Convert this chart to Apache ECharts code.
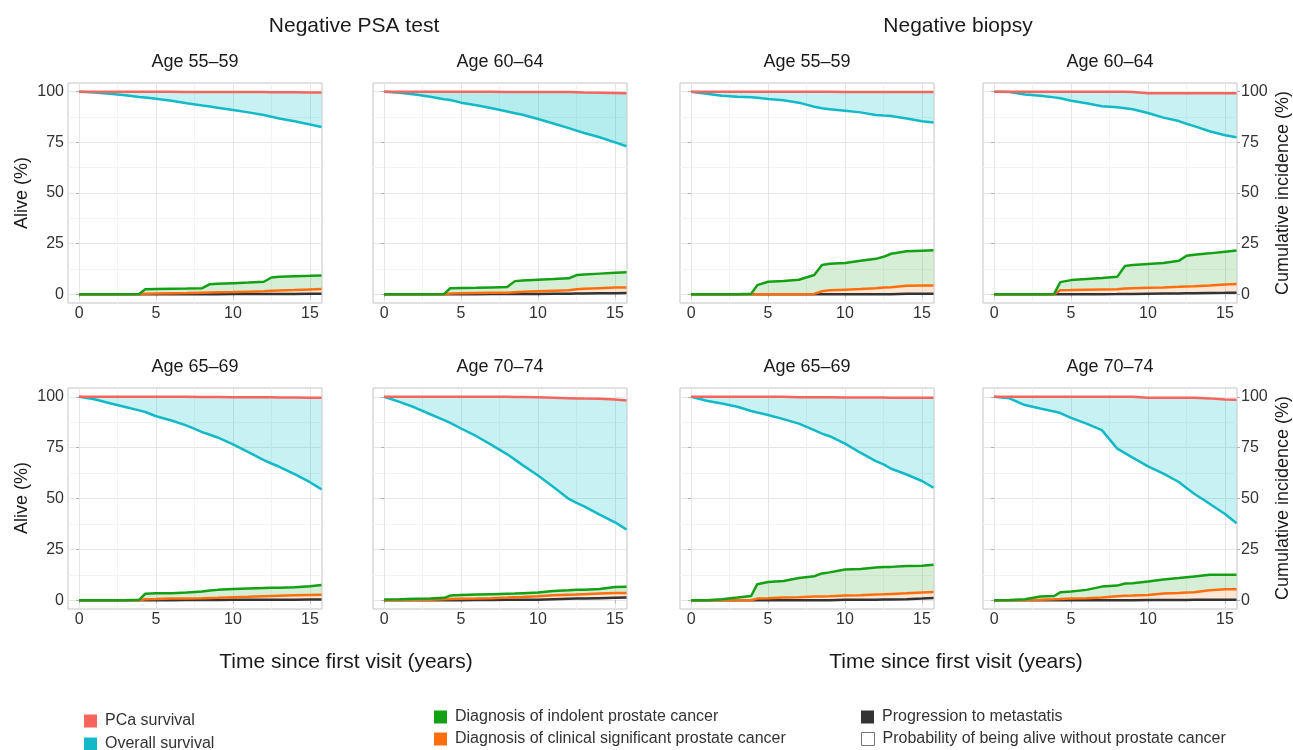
<!DOCTYPE html>
<html>
<head>
<meta charset="utf-8">
<script src="https://cdn.jsdelivr.net/npm/echarts@6/dist/echarts.min.js"></script>
<style>
  html, body { margin: 0; padding: 0; background: #fff; }
  #chart { width: 1293px; height: 750px; }
</style>
</head>
<body>
<div id="chart"></div>
<script>
// time points (years since first visit)
const xs = [0, 1, 2, 3, 3.9, 4.3, 5, 6, 7, 8, 8.5, 9, 10, 11, 12, 12.5, 13, 14, 15, 15.75]

// Negative PSA test, age 55-59
const psa5559Pca = [100, 100, 100, 100, 100, 100, 100, 100, 99.9, 99.9, 99.9, 99.9, 99.8, 99.8, 99.8, 99.7, 99.7, 99.7, 99.6, 99.6]
const psa5559Os = [100, 99.6, 99, 98.2, 97.4, 97.1, 96.5, 95.5, 94.3, 93.2, 92.7, 92.1, 91, 89.8, 88.5, 87.6, 86.8, 85.4, 83.8, 82.6]
const psa5559Ind = [0, 0, 0, 0, 0.2, 2.5, 2.6, 2.7, 2.8, 3.0, 5.0, 5.2, 5.5, 5.8, 6.2, 8.3, 8.6, 8.9, 9.1, 9.3]
const psa5559Sig = [0, 0, 0, 0, 0, 0.3, 0.4, 0.5, 0.6, 0.8, 0.9, 1.0, 1.1, 1.3, 1.5, 1.8, 1.9, 2.1, 2.4, 2.6]
const psa5559Met = [0, 0, 0, 0, 0, 0, 0, 0, 0, 0, 0, 0, 0.1, 0.1, 0.1, 0.2, 0.2, 0.2, 0.3, 0.3]

// Negative PSA test, age 60-64
const psa6064Pca = [100, 100, 100, 100, 100, 100, 100, 100, 100, 99.9, 99.9, 99.9, 99.9, 99.8, 99.8, 99.7, 99.6, 99.5, 99.4, 99.3]
const psa6064Os = [100, 99.5, 98.6, 97.5, 96.3, 95.9, 94.6, 93.3, 91.8, 90.2, 89.4, 88.6, 86.5, 84.3, 82, 80.8, 79.6, 77.5, 75, 73.1]
const psa6064Ind = [0, 0, 0, 0, 0.2, 3.0, 3.1, 3.2, 3.4, 3.6, 6.5, 6.8, 7.2, 7.5, 7.9, 9.5, 9.8, 10.2, 10.6, 10.9]
const psa6064Sig = [0, 0, 0, 0, 0, 0.4, 0.5, 0.6, 0.7, 0.8, 1.0, 1.2, 1.5, 1.8, 2.0, 2.5, 2.7, 3.0, 3.3, 3.4]
const psa6064Met = [0, 0, 0, 0, 0, 0, 0, 0, 0.1, 0.1, 0.1, 0.2, 0.2, 0.3, 0.3, 0.4, 0.4, 0.5, 0.5, 0.6]

// Negative biopsy, age 55-59
const bio5559Pca = [100, 100, 100, 100, 100, 100, 100, 100, 100, 100, 100, 100, 99.9, 99.9, 99.9, 99.9, 99.9, 99.8, 99.8, 99.8]
const bio5559Os = [100, 99, 98, 97.5, 97.3, 97, 96.4, 95.8, 94.6, 92.6, 91.8, 91.4, 90.6, 89.8, 88.5, 88.2, 88, 86.8, 85.4, 84.8]
const bio5559Ind = [0, 0, 0, 0, 0.3, 4.5, 6.2, 6.6, 7.2, 9.5, 14.5, 15.1, 15.5, 16.5, 17.5, 18.5, 20, 21.2, 21.5, 21.7]
const bio5559Sig = [0, 0, 0, 0, 0, 0, 0, 0, 0, 0.2, 1.5, 2.0, 2.3, 2.6, 3.0, 3.3, 3.5, 4.2, 4.3, 4.3]
const bio5559Met = [0, 0, 0, 0, 0, 0, 0, 0, 0, 0, 0, 0, 0, 0, 0, 0, 0, 0.3, 0.3, 0.3]

// Negative biopsy, age 60-64
const bio6064Pca = [100, 100, 100, 100, 100, 100, 100, 100, 100, 100, 100, 99.8, 99.3, 99.3, 99.3, 99.3, 99.3, 99.2, 99.2, 99.2]
const bio6064Os = [100, 99.8, 98.6, 98, 97.2, 96.8, 95.5, 94.3, 92.8, 92.3, 91.8, 91.3, 89.5, 87.2, 85.5, 84.2, 83, 80.5, 78.5, 77.5]
const bio6064Ind = [0, 0, 0, 0, 0.2, 6, 7, 7.5, 8, 8.6, 14, 14.5, 15, 15.5, 16.5, 19, 19.5, 20.2, 21, 21.6]
const bio6064Sig = [0, 0, 0, 0, 0, 2, 2.1, 2.3, 2.4, 2.5, 2.9, 3.0, 3.2, 3.4, 3.7, 3.9, 4.0, 4.3, 4.8, 5.1]
const bio6064Met = [0, 0, 0, 0, 0, 0, 0, 0, 0, 0.1, 0.2, 0.2, 0.3, 0.4, 0.4, 0.5, 0.5, 0.6, 0.7, 0.8]

// Negative PSA test, age 65-69
const psa6569Pca = [100, 100, 100, 100, 100, 100, 100, 100, 100, 99.9, 99.9, 99.9, 99.8, 99.8, 99.7, 99.7, 99.6, 99.6, 99.5, 99.5]
const psa6569Os = [100, 98.8, 96.8, 95, 93.3, 92.5, 90.4, 88.3, 85.8, 82.6, 81.3, 80, 76.6, 72.8, 68.9, 67.2, 65.6, 62, 58, 54.5]
const psa6569Ind = [0, 0, 0, 0, 0.2, 3.2, 3.4, 3.5, 3.8, 4.3, 4.8, 5.1, 5.5, 5.8, 6.0, 6.1, 6.2, 6.4, 6.9, 7.5]
const psa6569Sig = [0, 0, 0, 0, 0, 0.5, 0.6, 0.8, 0.9, 1.0, 1.1, 1.2, 1.5, 1.7, 2.0, 2.1, 2.2, 2.4, 2.6, 2.7]
const psa6569Met = [0, 0, 0, 0, 0, 0, 0, 0, 0.1, 0.1, 0.1, 0.1, 0.2, 0.2, 0.2, 0.3, 0.3, 0.3, 0.4, 0.4]

// Negative PSA test, age 70-74
const psa7074Pca = [100, 100, 100, 100, 100, 100, 100, 100, 100, 100, 99.9, 99.9, 99.7, 99.5, 99.3, 99.2, 99.1, 99, 98.6, 98.2]
const psa7074Os = [100, 97.5, 94.7, 91.4, 88.5, 87.2, 84.4, 80.6, 76.2, 71.7, 69.1, 66.4, 61.3, 55.6, 49.8, 47.9, 46.1, 42.1, 38.3, 34.7]
const psa7074Ind = [0.4, 0.5, 0.7, 0.9, 1.2, 2.3, 2.6, 2.8, 3.0, 3.2, 3.3, 3.5, 3.8, 4.6, 4.9, 5.1, 5.2, 5.5, 6.5, 6.6]
const psa7074Sig = [0, 0.1, 0.2, 0.3, 0.5, 0.6, 0.7, 0.8, 1.0, 1.3, 1.5, 1.6, 2.0, 2.5, 2.7, 2.8, 3.0, 3.3, 3.6, 3.6]
const psa7074Met = [0, 0, 0, 0, 0, 0, 0, 0.1, 0.1, 0.2, 0.2, 0.2, 0.3, 0.5, 0.7, 0.8, 0.8, 1.0, 1.2, 1.3]

// Negative biopsy, age 65-69
const bio6569Pca = [100, 100, 100, 100, 100, 100, 100, 100, 99.8, 99.7, 99.7, 99.7, 99.6, 99.6, 99.6, 99.6, 99.5, 99.5, 99.5, 99.5]
const bio6569Os = [100, 98, 96.7, 95.1, 93, 92.3, 91, 89, 86.8, 83.6, 81.9, 80.6, 77, 72.5, 68.4, 66.8, 64.6, 61.8, 58.6, 55.3]
const bio6569Ind = [0, 0, 0.5, 1.3, 2.1, 7.9, 9.0, 9.5, 10.9, 11.8, 13.2, 13.7, 15.1, 15.3, 16.1, 16.3, 16.4, 16.8, 16.9, 17.4]
const bio6569Sig = [0, 0, 0, 0, 0, 0.8, 1.0, 1.3, 1.5, 1.8, 1.9, 2.0, 2.3, 2.5, 2.8, 2.9, 3.1, 3.4, 3.8, 4.1]
const bio6569Met = [0, 0, 0, 0, 0, 0, 0, 0, 0, 0, 0, 0, 0.2, 0.3, 0.3, 0.4, 0.4, 0.5, 0.8, 1.1]

// Negative biopsy, age 70-74
const bio7074Pca = [100, 100, 100, 100, 100, 100, 100, 100, 100, 100, 100, 100, 99.5, 99.5, 99.5, 99.5, 99.5, 99.2, 98.6, 98.5]
const bio7074Os = [100, 99.2, 95.9, 94.2, 92.8, 92, 89.6, 86.8, 83.6, 74.5, 72.3, 70.1, 65.8, 62.2, 58.1, 55.2, 52.3, 47.4, 42.4, 37.8]
const bio7074Ind = [0, 0.1, 0.5, 1.8, 2.1, 3.9, 4.3, 5.1, 6.7, 7.2, 8.2, 8.4, 9.2, 10.2, 10.9, 11.3, 11.7, 12.5, 12.5, 12.5]
const bio7074Sig = [0, 0, 0.1, 0.3, 0.5, 0.6, 0.8, 1.0, 1.3, 2.0, 2.2, 2.3, 2.6, 3.3, 3.6, 3.8, 3.9, 4.9, 5.4, 5.4]
const bio7074Met = [0, 0, 0, 0, 0, 0, 0, 0, 0, 0, 0, 0, 0.1, 0.1, 0.1, 0.1, 0.2, 0.2, 0.2, 0.2]

const xTicks = [0, 5, 10, 15]
const xMinor = [2.5, 7.5, 12.5]
const yTicks = [0, 25, 50, 75, 100]
const yMinor = [12.5, 37.5, 62.5, 87.5]

const panels = [
  { title: 'Age 55–59', pca: psa5559Pca, os: psa5559Os, ind: psa5559Ind, sig: psa5559Sig, met: psa5559Met },
  { title: 'Age 60–64', pca: psa6064Pca, os: psa6064Os, ind: psa6064Ind, sig: psa6064Sig, met: psa6064Met },
  { title: 'Age 55–59', pca: bio5559Pca, os: bio5559Os, ind: bio5559Ind, sig: bio5559Sig, met: bio5559Met },
  { title: 'Age 60–64', pca: bio6064Pca, os: bio6064Os, ind: bio6064Ind, sig: bio6064Sig, met: bio6064Met },
  { title: 'Age 65–69', pca: psa6569Pca, os: psa6569Os, ind: psa6569Ind, sig: psa6569Sig, met: psa6569Met },
  { title: 'Age 70–74', pca: psa7074Pca, os: psa7074Os, ind: psa7074Ind, sig: psa7074Sig, met: psa7074Met },
  { title: 'Age 65–69', pca: bio6569Pca, os: bio6569Os, ind: bio6569Ind, sig: bio6569Sig, met: bio6569Met },
  { title: 'Age 70–74', pca: bio7074Pca, os: bio7074Os, ind: bio7074Ind, sig: bio7074Sig, met: bio7074Met }
]

const FONT = '"Liberation Sans", Arial, Helvetica, sans-serif'
const RED = '#F6655D'
const CYAN = '#13B9C6'
const GREEN = '#14A014'
const ORANGE = '#FF6E0E'
const BLACK = '#333333'
// the 60-64 PSA panel is printed with a slightly stronger cyan band
const cyanAlpha = [0.22, 0.29, 0.22, 0.22, 0.22, 0.22, 0.22, 0.22]

const lefts = [68, 373, 680, 983]
const tops = [83, 388]
const heights = [220, 221]
const W = 254

const pts = (arr) => xs.map((x, k) => [x, arr[k]])

const grid = []
const xAxis = []
const yAxis = []
const series = []
const graphic = []

// filled band between two curves, one polygon through the axis scales
const band = (xi, yi, upper, lower, color) => ({
  type: 'custom', xAxisIndex: xi, yAxisIndex: yi, silent: true, z: 1,
  encode: { x: 0, y: [1, 2] },
  data: xs.map((x, k) => [x, lower[k], upper[k]]),
  renderItem: (params, api) => {
    if (params.dataIndexInside !== 0) return null
    const n = xs.length
    const points = []
    for (let k = 0; k < n; k++) points.push(api.coord([api.value(0, k), api.value(2, k)]))
    for (let k = n - 1; k >= 0; k--) points.push(api.coord([api.value(0, k), api.value(1, k)]))
    return { type: 'polygon', shape: { points }, style: { fill: color }, silent: true }
  }
})

panels.forEach((p, i) => {
  const col = i % 4
  const row = Math.floor(i / 4)
  grid.push({ left: lefts[col], top: tops[row], width: W, height: heights[row], show: true, borderColor: '#c4c4c4', borderWidth: 1, backgroundColor: 'transparent' })

  const xi = xAxis.length
  xAxis.push({
    type: 'value', gridIndex: i, min: -0.72, max: 15.78,
    axisLine: { show: false },
    axisTick: { show: true, length: 3, lineStyle: { color: '#b0b0b0' }, customValues: xTicks },
    axisLabel: { show: true, margin: 3, fontSize: 16, color: '#333', fontFamily: FONT, customValues: xTicks },
    splitLine: { show: true, lineStyle: { color: '#e6e6e6', width: 1 } }
  })
  xAxis.push({
    type: 'value', gridIndex: i, min: -0.72, max: 15.78,
    axisLine: { show: false },
    axisTick: { show: false, customValues: xMinor },
    axisLabel: { show: false },
    splitLine: { show: true, lineStyle: { color: '#f3f3f3', width: 1 } }
  })

  const yi = yAxis.length
  yAxis.push({
    type: 'value', gridIndex: i, min: -4.3, max: 104.3, position: 'left',
    axisLine: { show: false },
    axisTick: { show: true, length: 3, lineStyle: { color: '#b0b0b0' }, customValues: yTicks },
    axisLabel: { show: col === 0, margin: 4, fontSize: 16, color: '#333', fontFamily: FONT, customValues: yTicks },
    splitLine: { show: true, lineStyle: { color: '#e6e6e6', width: 1 } }
  })
  yAxis.push({
    type: 'value', gridIndex: i, min: -4.3, max: 104.3, position: 'left',
    axisLine: { show: false },
    axisTick: { show: false, customValues: yMinor },
    axisLabel: { show: false },
    splitLine: { show: true, lineStyle: { color: '#f3f3f3', width: 1 } }
  })
  if (col === 3) {
    yAxis.push({
      type: 'value', gridIndex: i, min: -4.3, max: 104.3, position: 'right',
      axisLine: { show: false },
      axisTick: { show: true, length: 3, lineStyle: { color: '#b0b0b0' }, customValues: yTicks },
      axisLabel: { show: true, margin: 4, fontSize: 16, color: '#333', fontFamily: FONT, customValues: yTicks },
      splitLine: { show: false }
    })
  }

  // shaded bands
  series.push(band(xi, yi, p.pca, p.os, 'rgba(0,191,196,' + cyanAlpha[i] + ')'))
  series.push(band(xi, yi, p.sig, p.met, 'rgba(255,110,14,0.17)'))
  series.push(band(xi, yi, p.ind, p.sig, 'rgba(20,160,20,0.18)'))

  // curves
  const line = (name, arr, color) => ({
    type: 'line', xAxisIndex: xi, yAxisIndex: yi, name, data: pts(arr), color,
    showSymbol: false, symbol: 'none', silent: true,
    lineStyle: { color, width: 2.5 }, itemStyle: { color }, z: 3
  })
  series.push(line('Progression to metastatis', p.met, BLACK))
  series.push(line('Diagnosis of clinical significant prostate cancer', p.sig, ORANGE))
  series.push(line('Diagnosis of indolent prostate cancer', p.ind, GREEN))
  series.push(line('Overall survival', p.os, CYAN))
  series.push(line('PCa survival', p.pca, RED))

  graphic.push({
    type: 'text', x: lefts[col] + W / 2, y: tops[row] - 21,
    style: { text: p.title, font: '18px ' + FONT, fill: '#1a1a1a', align: 'center', verticalAlign: 'middle' }
  })
})

series.push({ type: 'line', name: 'Probability of being alive without prostate cancer', data: [], xAxisIndex: 0, yAxisIndex: 0, itemStyle: { color: '#fff' } })

const textEl = (text, x, y, size, rot) => ({
  type: 'text', x, y, rotation: rot || 0,
  style: { text, font: size + 'px ' + FONT, fill: '#1a1a1a', align: 'center', verticalAlign: 'middle' }
})
graphic.push(textEl('Negative PSA test', 354, 26, 21))
graphic.push(textEl('Negative biopsy', 958, 26, 21))
graphic.push(textEl('Time since first visit (years)', 346, 662, 21))
graphic.push(textEl('Time since first visit (years)', 956, 662, 21))
graphic.push(textEl('Alive (%)', 22, 193, 18, Math.PI / 2))
graphic.push(textEl('Alive (%)', 22, 498, 18, Math.PI / 2))
graphic.push(textEl('Cumulative incidence (%)', 1283, 193, 18, Math.PI / 2))
graphic.push(textEl('Cumulative incidence (%)', 1283, 498, 18, Math.PI / 2))

// one legend component per entry so each sits where it does in the figure
const legendItem = (name, left, top, itemStyle) => ({
  left, top, padding: 0, icon: 'rect', itemWidth: 13, itemHeight: 13,
  selectedMode: false, textStyle: { fontSize: 16, color: '#333', fontFamily: FONT, padding: [0, 0, 0, 3] },
  data: [itemStyle ? { name, itemStyle } : name]
})

const chart = echarts.init(document.getElementById('chart'), null, { renderer: 'canvas' })
chart.setOption({
  animation: false,
  backgroundColor: '#fff',
  grid, xAxis, yAxis, series, graphic,
  legend: [
    legendItem('PCa survival', 84, 713),
    legendItem('Overall survival', 84, 736),
    legendItem('Diagnosis of indolent prostate cancer', 434, 709),
    legendItem('Diagnosis of clinical significant prostate cancer', 434, 731),
    legendItem('Progression to metastatis', 861, 709),
    legendItem('Probability of being alive without prostate cancer', 861, 731, { color: '#fff', borderColor: '#777', borderWidth: 1 })
  ]
})
</script>
</body>
</html>
